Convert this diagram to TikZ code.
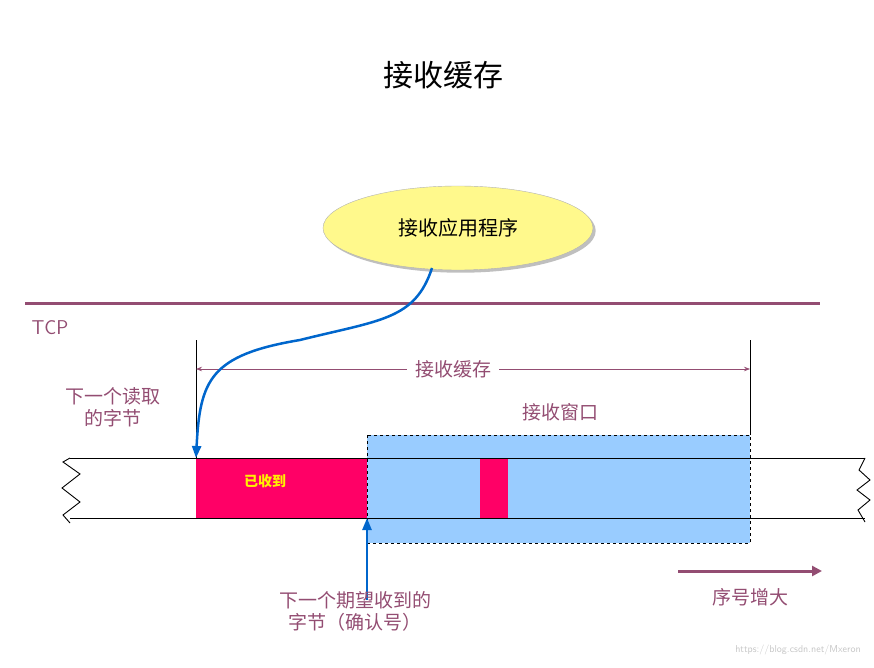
\documentclass[tikz,border=0pt]{standalone}
\usepackage{fontspec}
\setmainfont{Noto Sans CJK SC}
\usetikzlibrary{arrows.meta,shapes.geometric,shadows}
\definecolor{pur}{HTML}{934D72}
\definecolor{rblue}{HTML}{0066CC}
\definecolor{win}{HTML}{99CCFF}
\definecolor{pk}{HTML}{FF0066}
\tikzset{lbl/.style={text=pur,font=\fontsize{19}{22}\selectfont,inner sep=1pt},
bline/.style={line width=0.9pt,black}}
\begin{document}
\begin{tikzpicture}[x=1pt,y=-1pt]
\useasboundingbox (0,0) rectangle (874,668);
\node (title) at (443,75) {\fontsize{30}{34}\selectfont 接收缓存};
\node[ellipse,draw=gray!60,fill=yellow!45,minimum width=270,minimum height=84,drop shadow,font=\fontsize{20}{24}\selectfont] (app) at (458,228) {接收应用程序};
\draw[pur,line width=3pt] (25,303) -- (820,303);
\node[lbl,font=\fontsize{20}{24}\selectfont\sffamily] (tcp) at (50,328) {TCP};
\fill[win] (367,435) rectangle (750,543);
\fill[pk] (196,458) rectangle (367,518);
\fill[pk] (480,458) rectangle (508,518);
\draw[dashed,line width=0.6pt] (367,435) rectangle (750,543);
\draw[bline] (70,458) -- (865,458);
\draw[bline] (70,518) -- (865,518);
\draw[bline] (70,458) -- (63,462) -- (80,474) -- (62,488) -- (80,502) -- (63,515) -- (70,523);
\draw[bline] (865,458) -- (859,470) -- (870,480) -- (857,490) -- (870,500) -- (858,510) -- (865,522);
\draw[line width=0.7pt] (196,340) -- (196,458);
\draw[line width=0.7pt] (750,340) -- (750,435);
\coordinate (bl) at (196,369); \coordinate (br) at (750,369);
\draw[pur,line width=0.7pt,{Stealth[length=6pt]}-{Stealth[length=6pt]}] (bl) -- (br);
\node[lbl,fill=white,inner xsep=8pt] (buf) at (453,369) {接收缓存};
\node[lbl,align=center] (next) at (113,407) {下一个读取\\的字节};
\node[lbl] (wnd) at (560,412) {接收窗口};
\node[text=yellow,font=\fontsize{14}{16}\selectfont\bfseries] (got) at (265,481) {已收到};
\coordinate (rd) at (196,458);
\draw[rblue,line width=2.5pt,-{Triangle[length=12pt,width=9pt]}] (432,268) .. controls (415,320) and (380,320) .. (300,340) .. controls (210,355) and (200,380) .. (rd);
\coordinate (ack0) at (367,600); \coordinate (ack) at (367,518);
\draw[rblue,line width=2.5pt,-{Triangle[length=12pt,width=9pt]}] (ack0) -- (ack);
\node[lbl,align=center] (exp) at (355,611) {下一个期望收到的\\字节（确认号）};
\coordinate (s0) at (678,571); \coordinate (s1) at (822,571);
\draw[pur,line width=3pt,-{Triangle[length=10pt,width=10pt]}] (s0) -- (s1);
\node[lbl] (inc) at (750,597) {序号增大};
\node[text=gray!45,font=\fontsize{10}{12}\selectfont\sffamily] (wm) at (798,650) {https://blog.csdn.net/Mxeron};
\end{tikzpicture}
\end{document}
